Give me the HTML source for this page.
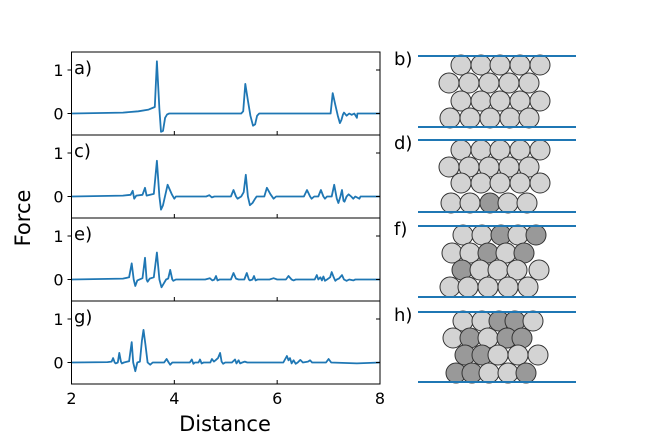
<!DOCTYPE html>
<html><head><meta charset="utf-8"><style>
body{margin:0;background:#fff}
svg{display:block;font-family:"DejaVu Sans","Liberation Sans",sans-serif}
</style></head><body>
<svg id="chart" width="660" height="440" viewBox="0 0 660 440"></svg>
<script>
const xTicks=[2,4,6,8];
const yTicks=[0,1];
const panelLabels=["a)","c)","e)","g)"];
const aX=[2,3,3.3,3.5,3.62,3.66,3.71,3.74,3.78,3.82,3.86,3.9,5.3,5.34,5.38,5.43,5.48,5.53,5.57,5.61,5.65,5.7,7.04,7.08,7.13,7.18,7.22,7.25,7.28,7.3,7.35,7.4,7.45,7.5,7.55,7.56,8];
const aY=[0,0.02,0.05,0.09,0.15,1.2,0.1,-0.42,-0.4,-0.1,-0.02,0,0,0.05,0.68,0.3,-0.05,-0.28,-0.25,-0.05,0,0,0,0.47,0.2,-0.05,-0.22,-0.15,-0.02,0.02,-0.05,0,-0.03,0,-0.1,0,0];
const cX=[2,3.0,3.15,3.19,3.22,3.26,3.38,3.43,3.46,3.6,3.66,3.71,3.74,3.78,3.87,3.95,4.0,4.03,4.62,4.68,4.73,4.78,5.1,5.15,5.2,5.23,5.3,5.35,5.39,5.43,5.47,5.52,5.57,5.6,5.75,5.8,5.87,5.93,5.98,6.52,6.58,6.64,6.67,6.72,6.8,6.85,6.9,6.93,6.97,7.06,7.11,7.16,7.19,7.23,7.26,7.29,7.31,7.35,7.39,7.44,7.48,7.52,7.6,7.62,8];
const cY=[0,0.02,0.04,0.13,-0.05,0.02,0.04,0.2,0.02,0.06,0.82,0,-0.3,-0.2,0.27,0.05,-0.05,0,0,0.03,-0.02,0,0,0.15,0,-0.05,0,0.1,0.5,0,-0.2,-0.15,-0.05,0,0,0.2,0.05,-0.05,0,0,0.15,0,-0.05,0,0,0.15,0,-0.05,0,0,0.27,-0.05,-0.15,0,0.15,-0.1,-0.12,0,0.05,0,-0.05,0,-0.05,0,0];
const eX=[2,3.0,3.12,3.17,3.21,3.24,3.28,3.38,3.43,3.46,3.48,3.52,3.6,3.66,3.71,3.75,3.79,3.84,3.88,3.92,3.96,3.98,4.03,4.6,4.69,4.74,4.78,4.81,4.84,4.88,5.1,5.15,5.2,5.25,5.36,5.41,5.45,5.47,5.52,5.55,5.58,5.62,5.85,5.93,6.0,6.17,6.22,6.28,6.32,6.36,6.73,6.77,6.8,6.84,6.87,6.9,6.93,6.97,7.03,7.06,7.1,7.13,7.16,7.2,7.26,7.3,7.35,7.4,7.48,7.52,8];
const eY=[0,0.02,0.05,0.37,0,-0.15,-0.02,0.03,0.5,0,-0.05,0.02,0.05,0.62,0,-0.18,-0.1,0,0.02,0.22,0,-0.03,0,0,0.03,-0.02,0,0.08,-0.02,0,0,0.15,0.02,0,0,0.15,0,-0.02,0,0.08,-0.02,0,0,0.03,0,0,0.08,0,-0.02,0,0,0.1,0,0.05,-0.02,0.07,-0.03,0,0.05,0.17,0.05,-0.03,0,0.02,0.1,0,-0.03,0,-0.02,0,0];
const gX=[2,2.7,2.78,2.81,2.84,2.86,2.9,2.93,2.96,2.98,3.02,3.12,3.17,3.2,3.24,3.28,3.33,3.37,3.4,3.44,3.48,3.53,3.58,3.8,3.85,3.89,3.92,3.96,4.3,4.34,4.37,4.4,4.47,4.5,4.53,4.57,4.7,4.73,4.77,4.8,4.85,4.89,4.92,4.95,4.99,5.12,5.18,5.21,5.25,5.28,5.32,5.37,5.42,6.12,6.19,6.22,6.25,6.28,6.32,6.36,6.4,6.45,6.5,6.6,6.64,6.68,6.95,7.0,7.05,7.55,8];
const gY=[0,0.01,0.02,0.1,0,-0.02,0,0.22,0.02,-0.02,0,0.03,0.47,0,-0.2,0,0.02,0.5,0.75,0.4,0,-0.05,0,0,0.08,0,-0.05,0,0,0.07,-0.03,0,0,0.07,-0.02,0,0,0.08,0.02,0.05,0.1,0.22,0.02,-0.03,0,0,0.07,-0.02,0.05,-0.02,0,0.02,0,0,0.15,0.05,0.1,-0.02,0.05,-0.03,0,0.06,0,0.02,0.05,0,0,0.08,0,-0.02,0];
const series=[[aX,aY],[cX,cY],[eX,eY],[gX,gY]];
const rightLabels=["b)","d)","f)","h)"];
const pTops=[56,140,226,312], pBots=[127,212,297,382];
const pRowY=[[65,83,101,118],[150,167,183,203],[235,253,270,287],[321,338,355,373]];
const pRowX=[
 [[461,481,500,520,540],[449,469,489,509,529],[461,481,500,520,540],[450,470,490,510,529]],
 [[461,481,500,520,540],[449,469,489,509,529],[461,481,500,520,540],[451,470,490,508,527]],
 [[463,482,501,518,536],[452,470,488,506,524],[462,480,498,517,539],[450,468,488,508,528]],
 [[463,482,499,515,533],[453,470,488,507,522],[465,482,498,518,538],[456,472,489,508,526]]];
const pDark=[[[],[],[],[]],[[],[],[],[2]],[[2,4],[2,4],[0],[]],[[2,3],[1,3,4],[0,1],[0,1,4]]];

const NS="http://www.w3.org/2000/svg";
const svg=document.getElementById('chart');
function mk(t,a,p){const e=document.createElementNS(NS,t);for(const k in a)e.setAttribute(k,a[k]);(p||svg).appendChild(e);return e;}
const X0=71.5,X1=380,tops=[52,135,218,301],PH=83;
const xs=d=>X0+(d-2)/6*(X1-X0);
const ys=(v,t)=>t+61.5-v*43.5;
tops.forEach((t,i)=>{
  const g=mk('g',{});
  
  
  const [dx,dy]=series[i];
  let d='';dx.forEach((v,j)=>{d+=(j?'L':'M')+xs(v).toFixed(1)+','+ys(dy[j],t).toFixed(1);});
  const ln=mk('path',{d:d,fill:'none',stroke:'#1f77b4','stroke-width':1.8,'stroke-linejoin':'round'},g);
  
  
  mk('rect',{x:X0,y:t,width:X1-X0,height:PH,fill:'none',stroke:'#000','stroke-width':1},g);
  yTicks.forEach(v=>{const y=ys(v,t);
    mk('line',{x1:X0-4,x2:X0,y1:y,y2:y,stroke:'#000'},g);
    mk('line',{x1:X1-4,x2:X1,y1:y,y2:y,stroke:'#000'},g);
    const tl=mk('text',{x:X0-8,y:y+6,'text-anchor':'end','font-size':16},g);tl.textContent=v;
    
    
  });
  xTicks.forEach(v=>{mk('line',{x1:xs(v),x2:xs(v),y1:t+PH,y2:t+PH-4,stroke:'#000'},g);});
  const lb=mk('text',{x:74,y:t+22,'font-size':18},g);lb.textContent=panelLabels[i];
  
  
});
xTicks.forEach(v=>{const tl=mk('text',{x:xs(v),y:404,'text-anchor':'middle','font-size':16});tl.textContent=v;
  
  });
const xt=mk('text',{x:225,y:431,'text-anchor':'middle','font-size':21});xt.textContent='Distance';


const yt=mk('text',{x:0,y:0,'text-anchor':'middle','font-size':21,transform:'translate(30,218) rotate(-90)'});yt.textContent='Force';


pTops.forEach((t,i)=>{
  const g=mk('g',{});
  
  
  pRowY[i].forEach((cy,r)=>{pRowX[i][r].forEach((cx,k)=>{
    const dark=pDark[i][r].includes(k);
    mk('circle',{cx:cx,cy:cy,r:10,fill:dark?'#999':'#d3d3d3',stroke:'#333','stroke-width':1},g);
  });});
  mk('line',{x1:418,x2:576,y1:t,y2:t,stroke:'#1f77b4','stroke-width':2},g);
  mk('line',{x1:418,x2:576,y1:pBots[i],y2:pBots[i],stroke:'#1f77b4','stroke-width':2},g);
  const lb=mk('text',{x:394,y:t+9,'font-size':18},g);lb.textContent=rightLabels[i];
  
  
});
</script>
</body></html>
